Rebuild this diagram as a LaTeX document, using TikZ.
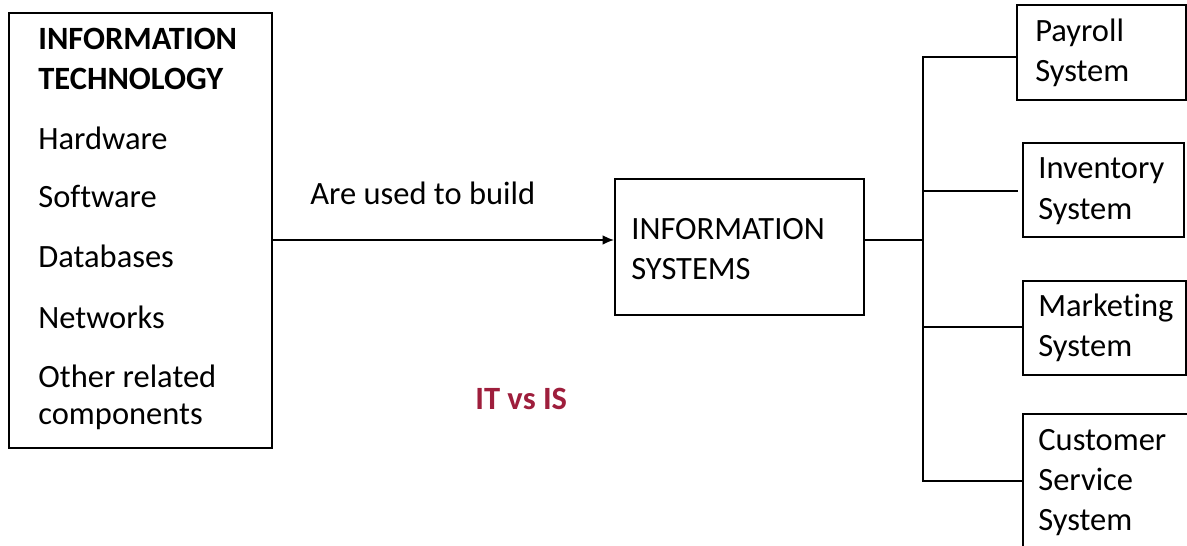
\documentclass[tikz,border=0pt]{standalone}
\usepackage{fontspec}
\setmainfont[Ligatures=NoCommon]{Carlito}
\usepackage{xcolor}
\usetikzlibrary{arrows.meta,positioning,fit,calc}

\definecolor{vsred}{RGB}{158,30,60}
\newcommand{\diagfont}{\fontsize{18.5}{22}\selectfont}

\tikzset{
  box/.style={draw, line width=1pt, inner sep=0pt},
  txt/.style={anchor=base west, inner sep=0pt, font=\diagfont},
  head/.style={txt, font=\diagfont\bfseries},
  wire/.style={line width=1pt, line cap=rect}
}

\begin{document}
\begin{tikzpicture}[x=0.02cm, y=-0.02cm]
\clip (0,0) rectangle (1187,546);

% IT block with its parts
\node[box, fit={(9,13) (272,448)}] (it) {};
\node[head] (ithead) at (38,50) {INFORMATION};
\node[head] (ithead2) at (38,90) {TECHNOLOGY};
\node[txt] (hw) at (38,150) {Hardware};
\node[txt] (sw) at (38,208) {Software};
\node[txt] (db) at (38,268) {Databases};
\node[txt] (nw) at (38,329) {Networks};
\node[txt] (other) at (38,388) {Other related};
\node[txt] (other2) at (38,425) {components};

% IS block
\node[box, fit={(615,179) (864,315)}] (is) {};
\node[txt] (isname) at (631,240) {INFORMATION};
\node[txt] (isname2) at (631,280) {SYSTEMS};

% kinds of systems (last one runs off the page)
\node[box, fit={(1017,5) (1186,100)}] (payroll) {};
\node[txt] (pay1) at (1035,42) {Payroll};
\node[txt] (pay2) at (1035,82) {System};

\node[box, fit={(1023,143) (1184,237)}] (inventory) {};
\node[txt] (inv1) at (1038,179) {Inventory};
\node[txt] (inv2) at (1038,220) {System};

\node[box, fit={(1023,281) (1186,375)}] (marketing) {};
\node[txt] (mkt1) at (1038,317) {Marketing};
\node[txt] (mkt2) at (1038,357) {System};

\node[box, fit={(1023,414) (1200,570)}] (customer) {};
\node[txt] (cs1) at (1038,451) {Customer};
\node[txt] (cs2) at (1038,491) {Service};
\node[txt] (cs3) at (1038,531) {System};

% arrow IT -> IS
\coordinate (link) at (0,240);
\draw[wire, line cap=butt, -{Latex[length=6.5pt,width=5.5pt]}] (it.east |- link) -- (is.west |- link);
\node[txt] (build) at (310,205) {Are used to build};

% tree to the systems
\coordinate (b1) at (923,57);
\coordinate (b2) at (923,191);
\coordinate (b3) at (923,327);
\coordinate (b4) at (923,481);
\draw[wire] (is.east |- link) -- (link -| b1);
\draw[wire] (b1) -- (b4);
\draw[wire] (b1) -- (b1 -| payroll.west);
\draw[wire, shorten >=0.1cm] (b2) -- (b2 -| inventory.west);
\draw[wire] (b3) -- (b3 -| marketing.west);
\draw[wire] (b4) -- (b4 -| customer.west);

% caption
\node[txt, font=\diagfont\bfseries, text=vsred] (caption) at (475,410) {IT vs IS};

\end{tikzpicture}
\end{document}
